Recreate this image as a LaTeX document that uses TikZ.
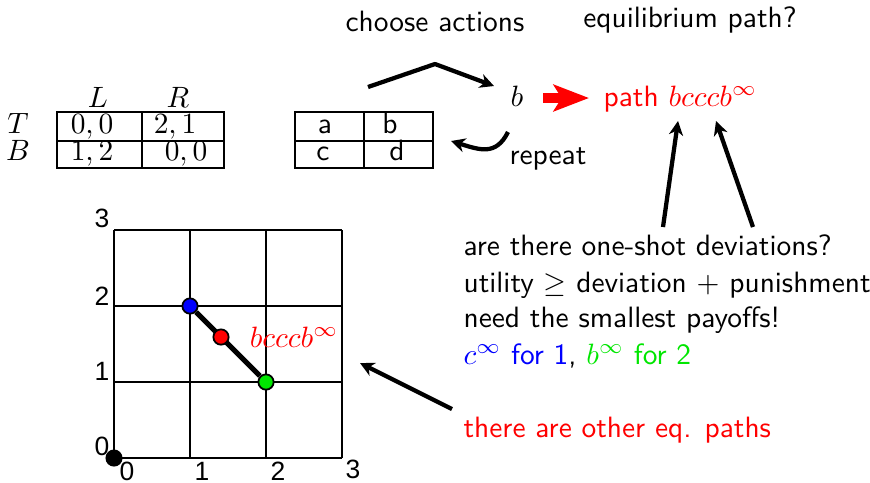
\documentclass[tikz,border=0pt]{standalone}
\usepackage{fontspec}
\newfontfamily\arialfont{Liberation Sans}
\usetikzlibrary{arrows.meta}
\definecolor{myred}{RGB}{255,0,0}
\definecolor{myblue}{RGB}{0,0,255}
\definecolor{mygreen}{RGB}{0,230,0}
\begin{document}
\begin{tikzpicture}[x=0.34pt,y=-0.34pt,
  txt/.style={font=\sffamily, inner sep=0pt, anchor=base},
  ltxt/.style={font=\sffamily, inner sep=0pt, anchor=base west},
  axl/.style={font=\arialfont\small, inner sep=0pt},
  tline/.style={line width=0.7pt},
  bigarrow/.style={line width=1.45pt, -{Stealth[length=4.8pt,width=4.8pt,inset=1.5pt]}},
  dot/.style={circle, draw=black, line width=0.6pt, minimum size=5.2pt, inner sep=0pt}]
\useasboundingbox (0,0) rectangle (870,482);

% titles
\node[txt] (choose) at (435,31) {choose actions};
\node[txt] (eqpath) at (690,27) {equilibrium path?};

% first table
\draw[tline] (57,112) rectangle (224,168);
\draw[tline] (142,112) -- (142,168);
\draw[tline] (57,141) -- (224,141);
\node[txt] (L) at (98,107) {$L$};
\node[txt] (R) at (178,107) {$R$};
\node[txt] (T) at (18,133) {$T$};
\node[txt] (B) at (18,160) {$B$};
\node[txt] (e11) at (92,133) {$0,0$};
\node[txt] (e12) at (175,133) {$2,1$};
\node[txt] (e21) at (92,160) {$1,2$};
\node[txt] (e22) at (186,160) {$0,0$};

% second table
\draw[tline] (295,112) rectangle (433,168);
\draw[tline] (364,112) -- (364,168);
\draw[tline] (295,141) -- (433,141);
\node[txt] (ca) at (325,133) {a};
\node[txt] (cb) at (390,133) {b};
\node[txt] (cc) at (323,160) {c};
\node[txt] (cd) at (397,160) {d};

% b and path
\node[txt] (bnode) at (517,106) {$b$};
\node[ltxt, text=myred] (path) at (603,106) {path $bcccb^\infty$};
\node[txt] (repeat) at (548,164) {repeat};

\coordinate (chstart) at (368,87);
\coordinate (chmid) at (435,64);
\coordinate (chend) at (494,86);
\draw[bigarrow, line join=round] (chstart) -- (chmid) -- (chend);

\coordinate (repstart) at (508,132);
\coordinate (repend) at (451,141);
\draw[bigarrow] (repstart) .. controls (496,156) and (480,150) .. (repend);

\coordinate (rstart) at (543,98);
\coordinate (rend) at (589,98);
\draw[myred, line width=3.4pt, -{Stealth[length=12pt,width=9pt,inset=2.7pt]}] (rstart) -- (rend);

% explanation text
\node[ltxt] (l1) at (463,255) {are there one-shot deviations?};
\node[ltxt] (l2) at (463,292) {utility $\geq$ deviation $+$ punishment};
\node[ltxt] (l3) at (463,327) {need the smallest payoffs!};
\node[ltxt] (l4) at (463,364) {\textcolor{myblue}{$c^\infty$ for 1}, \textcolor{mygreen}{$b^\infty$ for 2}};
\node[ltxt, text=myred] (l5) at (463,437) {there are other eq. paths};

\coordinate (a1s) at (663,227);
\coordinate (a1e) at (678,121);
\coordinate (a2s) at (753,227);
\coordinate (a2e) at (716,121);
\draw[bigarrow] (a1s) -- (a1e);
\draw[bigarrow] (a2s) -- (a2e);

\coordinate (a3s) at (452,409);
\coordinate (a3e) at (360,363);
\draw[bigarrow] (a3s) -- (a3e);

% grid
\foreach \i in {0,1,2,3} {
  \draw[tline] (114+76*\i,230) -- (114+76*\i,458);
  \draw[tline] (114,458-76*\i) -- (342,458-76*\i);
}
\node[axl] (y3) at (102,218) {3};
\node[axl] (y2) at (102,296) {2};
\node[axl] (y1) at (102,371) {1};
\node[axl] (y0) at (102,446) {0};
\node[axl] (x0) at (127,471) {0};
\node[axl] (x1) at (202,471) {1};
\node[axl] (x2) at (278,471) {2};
\node[axl] (x3) at (353,469) {3};

\node[dot, fill=black, draw=black] (p0) at (114,458) {};
\node[dot, fill=myblue] (pb) at (190,306) {};
\node[dot, fill=mygreen] (pg) at (266,382) {};
\draw[line width=1.7pt] (pb) -- (pg);
\node[dot, fill=myred] (pr) at (221,337) {};
\node[font=\sffamily, text=myred, inner sep=0pt] (plab) at (294,337) {$bcccb^\infty$};
\end{tikzpicture}
\end{document}
